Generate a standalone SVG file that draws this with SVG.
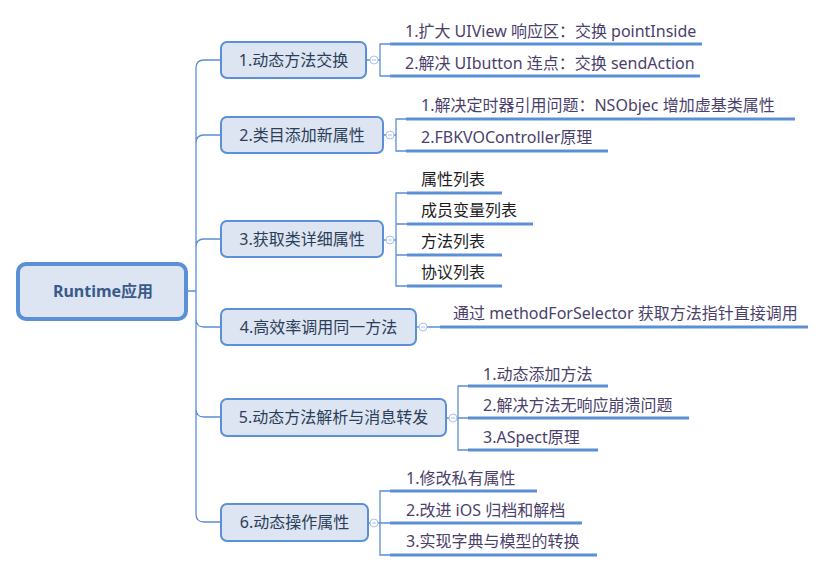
<svg xmlns="http://www.w3.org/2000/svg" width="826" height="572" viewBox="0 0 826 572">
<style>
text{font-family:"Noto Sans","Noto Sans CJK SC",sans-serif;font-size:16px}
.node{fill:#dce5f1;stroke:#5b8fd6;stroke-width:2}
.root{fill:#dce5f1;stroke:#5b8fd6;stroke-width:4}
.bt{fill:#2c3e5a;text-anchor:middle}
.rt{fill:#3a5a8c;text-anchor:middle;font-weight:bold}
.ct{fill:#4b3f6c}
.kt{fill:#1e1e1e}
.ln{fill:none;stroke:#5b8fd6;stroke-width:1.3}
.ul{fill:none;stroke:#5b8fd6;stroke-width:3}
.cc{fill:#fff;stroke:#a9c3ea;stroke-width:1}
.cm{stroke:#a9c3ea;stroke-width:1}
</style>
<rect width="826" height="572" fill="#fff"/>
<g id="connectors">
<path class="ln" d="M187,291 H196 M196,68 V514 M220,60 H204 Q196,60 196,68 M196,514 Q196,522 204,522 H220 M196,143 Q196,135 204,135 H220 M196,247 Q196,239 204,239 H220 M196,319 Q196,327 204,327 H220 M196,409 Q196,417 204,417 H220"/>
<path class="ln" d="M366,60 H370 M378,60 H380 M390,44 H380 V76 H390"/>
<path class="ul" d="M390,44 H702 M390,76 H700"/>
<circle class="cc" cx="374" cy="60" r="4"/><path class="cm" d="M372,60 H376"/>
<path class="ln" d="M383,135 H386 M394,135 H396 M406,119 H396 V151 H406"/>
<path class="ul" d="M406,119 H795 M406,151 H608"/>
<circle class="cc" cx="390" cy="135" r="4"/><path class="cm" d="M388,135 H392"/>
<path class="ln" d="M383,240 H386 M394,240 H396 M407,193 H396 V286 H407 M396,224 H407 M396,255 H407"/>
<path class="ul" d="M407,193 H502 M407,224 H533 M407,255 H502 M407,286 H502"/>
<circle class="cc" cx="390" cy="240" r="4"/><path class="cm" d="M388,240 H392"/>
<path class="ln" d="M416,327 H419 M427,327 H440"/>
<path class="ul" d="M440,327 H808"/>
<circle class="cc" cx="423" cy="327" r="4"/><path class="cm" d="M421,327 H425"/>
<path class="ln" d="M446,418 H449 M457,418 H458 M468,386 H458 V450 H468 M458,418 H468"/>
<path class="ul" d="M468,386 H608 M468,418 H689 M468,450 H598"/>
<circle class="cc" cx="453" cy="418" r="4"/><path class="cm" d="M451,418 H455"/>
<path class="ln" d="M368,523 H370 M378,523 H380 M390,491 H380 V555 H390 M380,523 H390"/>
<path class="ul" d="M390,491 H537 M390,523 H582 M390,555 H597"/>
<circle class="cc" cx="374" cy="523" r="4"/><path class="cm" d="M372,523 H376"/>
</g>
<g id="root"><rect class="root" x="18" y="264" width="168" height="55" rx="8"/><text class="rt" x="103" y="297">Runtime应用</text></g>
<g id="b1"><rect class="node" x="221" y="42" width="145" height="36" rx="6"/><text class="bt" x="293.5" y="65.5">1.动态方法交换</text></g>
<g id="b2"><rect class="node" x="221" y="117" width="162" height="36" rx="6"/><text class="bt" x="302" y="140.5">2.类目添加新属性</text></g>
<g id="b3"><rect class="node" x="221" y="221" width="162" height="36" rx="6"/><text class="bt" x="302" y="244.5">3.获取类详细属性</text></g>
<g id="b4"><rect class="node" x="221" y="309" width="195" height="36" rx="6"/><text class="bt" x="318.5" y="332.5">4.高效率调用同一方法</text></g>
<g id="b5"><rect class="node" x="221" y="399" width="225" height="37" rx="6"/><text class="bt" x="333.5" y="423">5.动态方法解析与消息转发</text></g>
<g id="b6"><rect class="node" x="221" y="504" width="147" height="37" rx="6"/><text class="bt" x="294.5" y="528">6.动态操作属性</text></g>
<g id="c1"><text class="ct" x="405" y="37">1.扩大 UIView 响应区：交换 pointInside</text></g>
<g id="c2"><text class="ct" x="405" y="69">2.解决 UIbutton 连点：交换 sendAction</text></g>
<g id="c3"><text class="ct" x="421" y="111">1.解决定时器引用问题：NSObjec 增加虚基类属性</text></g>
<g id="c4"><text class="ct" x="421" y="143">2.FBKVOController原理</text></g>
<g id="c5"><text class="kt" x="421" y="185">属性列表</text></g>
<g id="c6"><text class="kt" x="421" y="216">成员变量列表</text></g>
<g id="c7"><text class="kt" x="421" y="247">方法列表</text></g>
<g id="c8"><text class="kt" x="421" y="278">协议列表</text></g>
<g id="c9"><text class="ct" x="453" y="319">通过 methodForSelector 获取方法指针直接调用</text></g>
<g id="c10"><text class="ct" x="483" y="380">1.动态添加方法</text></g>
<g id="c11"><text class="ct" x="483" y="411">2.解决方法无响应崩溃问题</text></g>
<g id="c12"><text class="ct" x="483" y="443">3.ASpect原理</text></g>
<g id="c13"><text class="ct" x="406" y="484">1.修改私有属性</text></g>
<g id="c14"><text class="ct" x="406" y="516">2.改进 iOS 归档和解档</text></g>
<g id="c15"><text class="ct" x="406" y="547">3.实现字典与模型的转换</text></g>
</svg>
